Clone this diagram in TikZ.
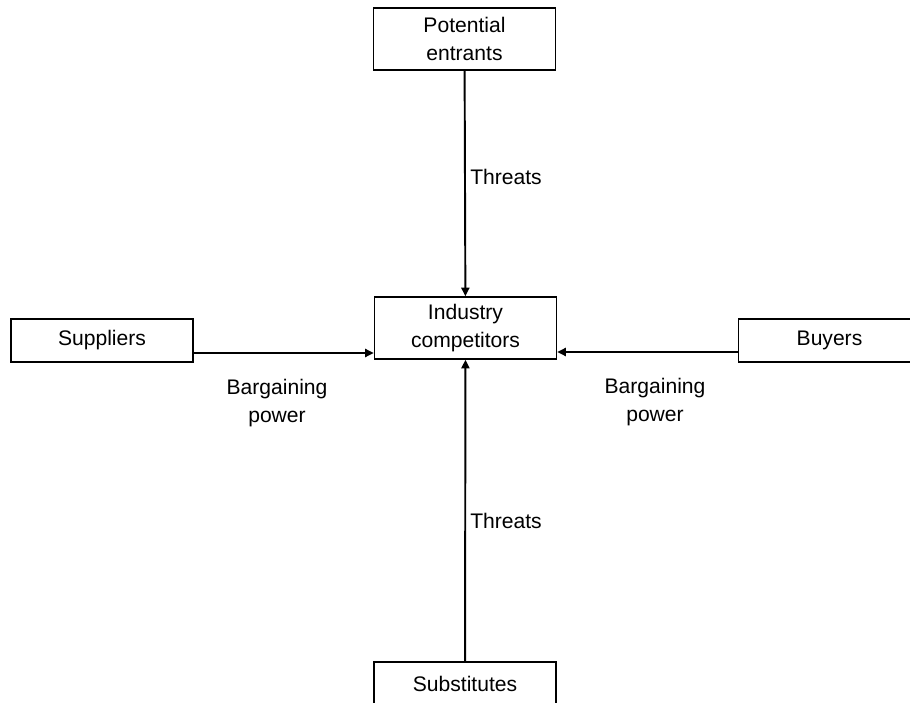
\documentclass[tikz,border=0pt]{standalone}
\usepackage{fontspec}
\setmainfont{Liberation Sans}
\usetikzlibrary{arrows.meta, positioning}

\begin{document}
\begin{tikzpicture}[
    box/.style={rectangle, draw, line width=0.9pt, minimum width=3.64cm, minimum height=0.86cm, align=center, font=\fontsize{12}{15.5}\selectfont, inner sep=0pt},
    tallbox/.style={box, minimum height=1.24cm},
    lbl/.style={align=center, font=\fontsize{12}{15.5}\selectfont},
    arrow/.style={-{Triangle[length=1.7mm, width=1.6mm]}, line width=1.1pt}
]
    \useasboundingbox (0,0) rectangle (18.2,-14.06);
    % Forces
    \node[tallbox] (ind) at (9.31,-6.56) {Industry\\competitors};
    \node[tallbox] (ent) at (9.29,-0.78) {Potential\\entrants};
    \node[box] (sup) at (2.04,-6.81) {Suppliers};
    \node[box] (buy) at (16.59,-6.81) {Buyers};
    \node[box] (sub) at (9.30,-13.67) {Substitutes};

    % Labels
    \node[lbl] (thr1) at (10.12,-3.54) {Threats};
    \node[lbl] (thr2) at (10.12,-10.42) {Threats};
    \node[lbl] (bp1) at (5.54,-8.06) {Bargaining\\power};
    \node[lbl] (bp2) at (13.10,-8.04) {Bargaining\\power};

    % Arrows
    \draw[arrow] (ent) -- (ind);
    \draw[arrow] (sub) -- (ind);
    \draw[arrow] ([yshift=-0.25cm]sup.east) -- ([yshift=-0.5cm]ind.west);
    \draw[arrow] ([yshift=-0.23cm]buy.west) -- ([yshift=-0.48cm]ind.east);
\end{tikzpicture}
\end{document}
